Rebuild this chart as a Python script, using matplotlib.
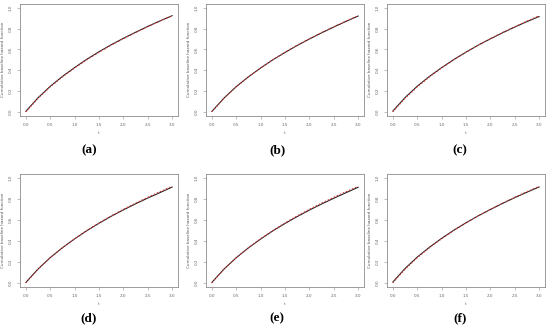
import numpy as np
import matplotlib
matplotlib.use("Agg")
import matplotlib.pyplot as plt

# time grid and cumulative baseline hazard
t = [0.0, 0.25, 0.5, 0.75, 1.0, 1.25, 1.5, 1.75, 2.0, 2.25, 2.5, 2.75, 3.0]
true_H = [0.0, 0.13, 0.24, 0.335, 0.421, 0.50, 0.572, 0.64, 0.702, 0.761, 0.817, 0.871, 0.922]

est_a = [0.005, 0.135, 0.245, 0.34, 0.425, 0.505, 0.577, 0.644, 0.706, 0.764, 0.82, 0.873, 0.923]
est_b = [0.004, 0.133, 0.242, 0.336, 0.421, 0.499, 0.570, 0.637, 0.699, 0.758, 0.814, 0.868, 0.92]
est_c = [0.008, 0.137, 0.246, 0.34, 0.424, 0.502, 0.573, 0.640, 0.701, 0.759, 0.814, 0.866, 0.915]
est_d = [0.004, 0.132, 0.241, 0.335, 0.42, 0.498, 0.569, 0.636, 0.697, 0.755, 0.81, 0.862, 0.915]
est_e = [0.004, 0.132, 0.24, 0.334, 0.418, 0.496, 0.567, 0.633, 0.695, 0.753, 0.808, 0.861, 0.913]
est_f = [0.008, 0.137, 0.246, 0.34, 0.425, 0.503, 0.574, 0.640, 0.701, 0.759, 0.814, 0.866, 0.916]

panel_labels = ['(a)', '(b)', '(c)', '(d)', '(e)', '(f)']
estimates = [est_a, est_b, est_c, est_d, est_e, est_f]

W, H = 550, 328
fig = plt.figure(figsize=(W/100, H/100), dpi=100)

cols = [(20, 178), (206, 364), (387, 545)]
rows = [(3.5, 116), (174, 287)]
cap_x = [89, 277, 460]
cap_y = [150, 318]

box_col = '#8c8c8c'
for i in range(6):
    r, c = divmod(i, 3)
    x0, x1 = cols[c]
    y0, y1 = rows[r]
    ax = fig.add_axes([x0/W, 1-y1/H, (x1-x0)/W, (y1-y0)/H])
    ax.plot(t, estimates[i], color='#1a1a1a', lw=0.75)
    ax.plot(t, true_H, color='#d23a3a', lw=0.8, ls=(0, (1.5, 1.5)))
    ax.set_xlim(-0.12, 3.12)
    ax.set_ylim(-0.04, 1.04)
    ax.set_xticks([0, 0.5, 1.0, 1.5, 2.0, 2.5, 3.0])
    ax.set_yticks([0, 0.2, 0.4, 0.6, 0.8, 1.0])
    ax.set_xticklabels(['0.0', '0.5', '1.0', '1.5', '2.0', '2.5', '3.0'])
    ax.set_yticklabels(['0.0', '0.2', '0.4', '0.6', '0.8', '1.0'], rotation=90, va='center')
    ax.tick_params(length=2, width=0.4, color=box_col, labelsize=3, labelcolor='#666666', pad=3)
    for s in ax.spines.values():
        s.set_color(box_col)
        s.set_linewidth(0.6)
    ax.set_xlabel('t', fontsize=3, color='#666666', labelpad=3)
    ax.set_ylabel('Cumulative baseline hazard function', fontsize=3, color='#555555', labelpad=3)
    fig.text(cap_x[c]/W, 1-cap_y[r]/H, panel_labels[i], ha='center', va='center',
             fontsize=9.5, fontweight='bold', family='Liberation Serif')

fig.savefig('out.png', dpi=100)
